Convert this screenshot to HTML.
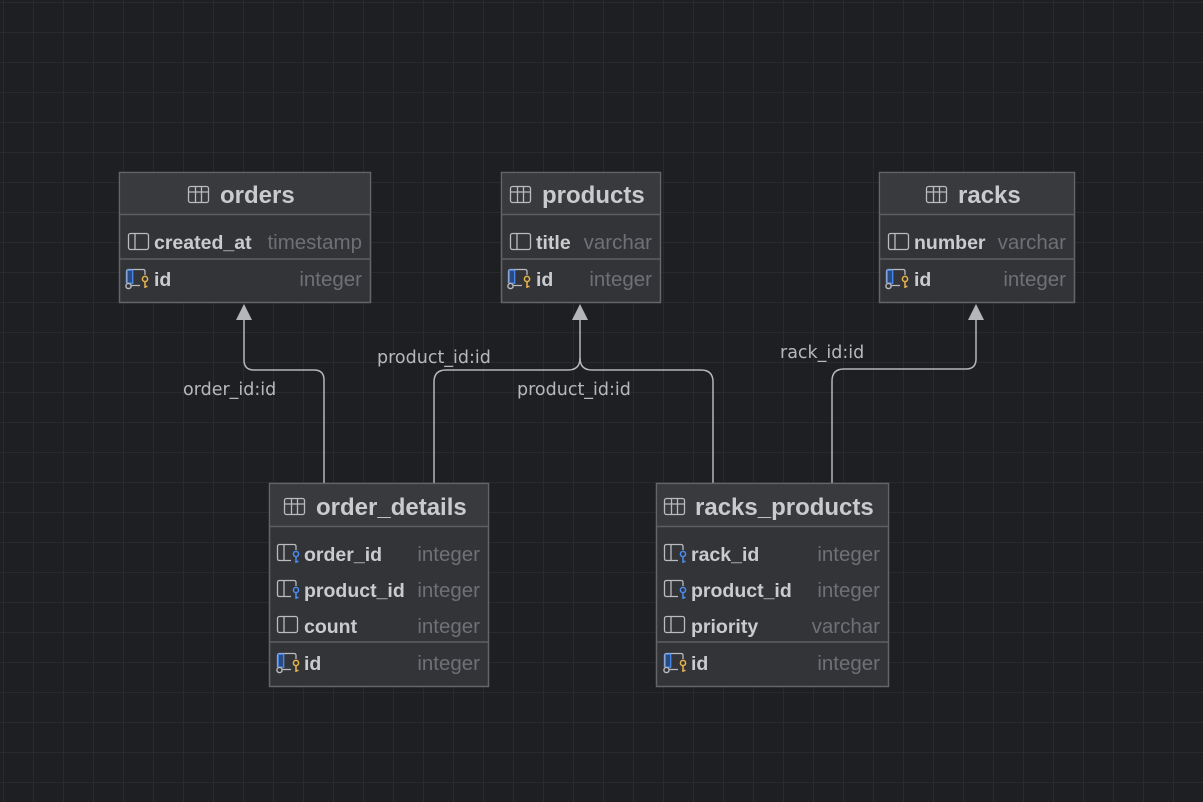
<!DOCTYPE html>
<html><head><meta charset="utf-8"><style>
html,body{margin:0;padding:0;background:#1e1f22;}
svg{display:block}
.t{font-family:"Liberation Sans",sans-serif;font-weight:bold;fill:#c9cbcf}
.h{font-size:24px}
.n{font-size:19.5px}
.ty{font-family:"Liberation Sans",sans-serif;font-size:20.5px;fill:#6e7076;text-anchor:end}
.lb{font-family:"DejaVu Sans",sans-serif;font-size:17.5px;fill:#b6b8bb}
</style></head><body>
<svg width="1203" height="802" viewBox="0 0 1203 802">
<defs>
<pattern id="g" x="3" y="2" width="30" height="30" patternUnits="userSpaceOnUse">
<path d="M0 0H30M0 0V30" stroke="#2c2e31" stroke-width="1.5" fill="none"/>
</pattern>
<g id="tbl"><rect x="0.5" y="0.5" width="20" height="16" rx="2" fill="none" stroke="#b9bbbe" stroke-width="1.3"/><path d="M1 6H20M7.5 1V16M13.5 1V16" stroke="#b9bbbe" stroke-width="1.3"/></g>
<g id="col"><rect x="0.5" y="0.5" width="20" height="16" rx="2" fill="none" stroke="#b9bbbe" stroke-width="1.3"/><path d="M7 1V16" stroke="#b9bbbe" stroke-width="1.3"/></g>
<g id="fk"><path d="M19 6V2.5Q19 0.5 17 0.5H2.5Q0.5 0.5 0.5 2.5V14.5Q0.5 16.5 2.5 16.5H14" fill="none" stroke="#b9bbbe" stroke-width="1.3"/><path d="M7 1V16" stroke="#b9bbbe" stroke-width="1.3"/><circle cx="19" cy="10" r="2.6" fill="none" stroke="#4a8cf0" stroke-width="1.5"/><path d="M19 12.6V19M19 17.5H21.5" stroke="#4a8cf0" stroke-width="1.5"/></g>
<g id="pk"><path d="M0.5 14V2.5Q0.5 0.5 2.5 0.5H17Q19 0.5 19 2.5V6M5 16.5H14" fill="none" stroke="#b9bbbe" stroke-width="1.3"/><rect x="1.2" y="1.2" width="5.5" height="13" fill="#2a4a80" stroke="#4a8cf0" stroke-width="1.3"/><circle cx="2.5" cy="17" r="2.6" fill="none" stroke="#b9bbbe" stroke-width="1.4"/><circle cx="19" cy="10" r="2.6" fill="none" stroke="#e9b34a" stroke-width="1.5"/><path d="M19 12.6V19M19 17.5H21.5" stroke="#e9b34a" stroke-width="1.5"/></g>
</defs>
<rect width="1203" height="802" fill="#1e1f22"/>
<rect width="1203" height="802" fill="url(#g)"/>

<g fill="none" stroke="#b4b6b9" stroke-width="1.5">
<path d="M244 318V360Q244 370 254 370H314Q324 370 324 380V484"/>
<path d="M580 318V358Q580 370 568 370H446Q434 370 434 382V484"/>
<path d="M580 358Q580 370 592 370H701Q713 370 713 382V484"/>
<path d="M976 318V359Q976 369 966 369H844Q832 369 832 381V484"/>
</g>
<g fill="#b4b6b9">
<path d="M236 320L244 304L252 320Z"/>
<path d="M572 320L580 304L588 320Z"/>
<path d="M968 320L976 304L984 320Z"/>
</g>
<text class="lb" x="183" y="395">order_id:id</text>
<text class="lb" x="377" y="363">product_id:id</text>
<text class="lb" x="517" y="395">product_id:id</text>
<text class="lb" x="780" y="358">rack_id:id</text>

<g transform="translate(119,172)">
<rect x="0.5" y="0.5" width="251" height="130" fill="#333437" stroke="#636569" stroke-width="1.5"/>
<rect x="1.2" y="1.2" width="249.6" height="41" fill="#393a3d"/>
<path d="M1 42.5H251M1 87H251" stroke="#5c5e62" stroke-width="1.5"/>
<use href="#tbl" x="69" y="14"/><text class="t h" x="101" y="31">orders</text>
<use href="#col" x="9" y="61"/><text class="t n" x="35" y="77">created_at</text><text class="ty" x="243" y="77">timestamp</text>
<use href="#pk" x="7" y="97"/><text class="t n" x="35" y="114">id</text><text class="ty" x="243" y="114">integer</text>
</g>

<g transform="translate(501,172)">
<rect x="0.5" y="0.5" width="159" height="130" fill="#333437" stroke="#636569" stroke-width="1.5"/>
<rect x="1.2" y="1.2" width="157.6" height="41" fill="#393a3d"/>
<path d="M1 42.5H159M1 87H159" stroke="#5c5e62" stroke-width="1.5"/>
<use href="#tbl" x="9" y="14"/><text class="t h" x="41" y="31">products</text>
<use href="#col" x="9" y="61"/><text class="t n" x="35" y="77">title</text><text class="ty" x="151" y="77">varchar</text>
<use href="#pk" x="7" y="97"/><text class="t n" x="35" y="114">id</text><text class="ty" x="151" y="114">integer</text>
</g>

<g transform="translate(879,172)">
<rect x="0.5" y="0.5" width="195" height="130" fill="#333437" stroke="#636569" stroke-width="1.5"/>
<rect x="1.2" y="1.2" width="193.6" height="41" fill="#393a3d"/>
<path d="M1 42.5H195M1 87H195" stroke="#5c5e62" stroke-width="1.5"/>
<use href="#tbl" x="47" y="14"/><text class="t h" x="79" y="31">racks</text>
<use href="#col" x="9" y="61"/><text class="t n" x="35" y="77">number</text><text class="ty" x="187" y="77">varchar</text>
<use href="#pk" x="7" y="97"/><text class="t n" x="35" y="114">id</text><text class="ty" x="187" y="114">integer</text>
</g>

<g transform="translate(269,483)">
<rect x="0.5" y="0.5" width="219" height="203" fill="#333437" stroke="#636569" stroke-width="1.5"/>
<rect x="1.2" y="1.2" width="217.6" height="42" fill="#393a3d"/>
<path d="M1 43.5H219M1 159H219" stroke="#5c5e62" stroke-width="1.5"/>
<use href="#tbl" x="15" y="15"/><text class="t h" x="47" y="32">order_details</text>
<use href="#fk" x="8" y="61"/><text class="t n" x="35" y="78">order_id</text><text class="ty" x="211" y="78">integer</text>
<use href="#fk" x="8" y="97"/><text class="t n" x="35" y="114">product_id</text><text class="ty" x="211" y="114">integer</text>
<use href="#col" x="8" y="133"/><text class="t n" x="35" y="150">count</text><text class="ty" x="211" y="150">integer</text>
<use href="#pk" x="8" y="170"/><text class="t n" x="35" y="187">id</text><text class="ty" x="211" y="187">integer</text>
</g>

<g transform="translate(656,483)">
<rect x="0.5" y="0.5" width="232" height="203" fill="#333437" stroke="#636569" stroke-width="1.5"/>
<rect x="1.2" y="1.2" width="230.6" height="42" fill="#393a3d"/>
<path d="M1 43.5H232M1 159H232" stroke="#5c5e62" stroke-width="1.5"/>
<use href="#tbl" x="8" y="15"/><text class="t h" x="39" y="32">racks_products</text>
<use href="#fk" x="8" y="61"/><text class="t n" x="35" y="78">rack_id</text><text class="ty" x="224" y="78">integer</text>
<use href="#fk" x="8" y="97"/><text class="t n" x="35" y="114">product_id</text><text class="ty" x="224" y="114">integer</text>
<use href="#col" x="8" y="133"/><text class="t n" x="35" y="150">priority</text><text class="ty" x="224" y="150">varchar</text>
<use href="#pk" x="8" y="170"/><text class="t n" x="35" y="187">id</text><text class="ty" x="224" y="187">integer</text>
</g>
</svg>
</body></html>
